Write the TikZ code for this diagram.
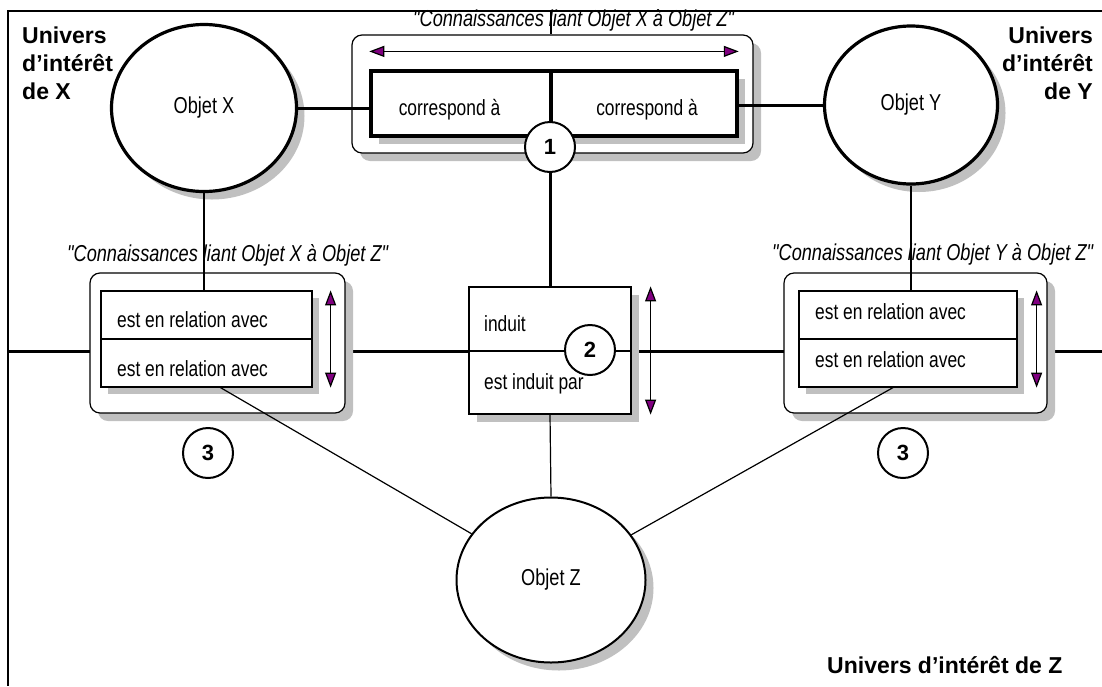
\documentclass[tikz,border=0pt]{standalone}
\usepackage{fontspec}
\setmainfont{Liberation Sans}
\newfontfamily\narrowfont[FakeStretch=0.79]{Liberation Sans}
\usetikzlibrary{arrows.meta, shapes.geometric, backgrounds}
\definecolor{tippurple}{RGB}{128,0,128}
\definecolor{shadowgray}{RGB}{192,192,192}

\begin{document}
\begin{tikzpicture}[x=1pt, y=-1pt,
  ombre/.style={fill=shadowgray},
  objet/.style={ellipse, draw, fill=white, inner sep=0pt, font=\narrowfont\fontsize{23}{27}\selectfont},
  cadre/.style={draw, fill=white, rounded corners=10pt, line width=1.2pt},
  tableau/.style={draw, fill=white, line width=1.2pt, inner sep=0pt},
  cellule/.style={draw, fill=white, line width=3.5pt, inner sep=0pt},
  rond/.style={circle, draw, fill=white, line width=2pt, minimum size=50pt, inner sep=0pt, font=\fontsize{22}{26}\selectfont\bfseries},
  texte/.style={inner sep=0pt, font=\narrowfont\fontsize{22}{26}\selectfont},
  titre/.style={inner sep=0pt, font=\narrowfont\itshape\fontsize{23}{27}\selectfont},
  univers/.style={inner sep=0pt, font=\fontsize{23}{28}\selectfont\bfseries},
  epais/.style={line width=3pt},
  fin/.style={line width=1.2pt},
  fleche/.style={fin, {Triangle[width=11pt,length=15pt,fill=tippurple]}-{Triangle[width=11pt,length=15pt,fill=tippurple]}}
]
  \useasboundingbox (0,0) rectangle (1102,686);

  % Frame corners and universe borders
  \coordinate (coin) at (8,11);
  \coordinate (hautdroit) at (1102,11);
  \coordinate (basgauche) at (8,686);
  \coordinate (gauche) at (8,351);
  \coordinate (droite) at (1102,351);
  \coordinate (haut) at (551,11);

  % Objects (with shadows)
  \fill[ombre] (212,116) ellipse [x radius=92.5, y radius=83.5];
  \node[objet, line width=3.2pt, minimum width=185pt, minimum height=167pt] (objx) at (204,108) {Objet X};
  \fill[ombre] (919,113) ellipse [x radius=86.5, y radius=79];
  \node[objet, line width=3.2pt, minimum width=173pt, minimum height=158pt] (objy) at (911,105) {Objet Y};
  \fill[ombre] (559,588) ellipse [x radius=94.5, y radius=82.5];
  \node[objet, line width=2pt, minimum width=189pt, minimum height=165pt] (objz) at (551,580) {Objet Z};

  % Knowledge X-Y (top)
  \fill[ombre, rounded corners=10pt] (360,43) rectangle (761,161);
  \node[cadre, minimum width=401pt, minimum height=118pt] (cadrexy) at (552.5,94) {};
  \fill[ombre] (379,79) rectangle (745,144);
  \node[cellule, minimum width=180pt, minimum height=65pt] (corr1) at (461,103.5) {};
  \node[cellule, minimum width=186pt, minimum height=65pt] (corr2) at (644,103.5) {};
  \node[texte, anchor=base] (txtcorr1) at (449.5,115) {correspond à};
  \node[texte, anchor=base] (txtcorr2) at (647,115) {correspond à};
  \draw[fleche] ([yshift=-17pt]cadrexy.north -| corr1.west) -- ([yshift=-17pt]cadrexy.north -| corr2.east);

  % Knowledge X-Z (left)
  \fill[ombre, rounded corners=10pt] (98,281) rectangle (353,421);
  \node[cadre, minimum width=255pt, minimum height=140pt] (cadrexz) at (217.5,343) {};
  \fill[ombre] (108,298) rectangle (319,394);
  \node[tableau, minimum width=211pt, minimum height=96pt] (tabx) at (206.5,339) {};
  \draw[fin] (tabx.west) -- (tabx.east);
  \node[texte, anchor=base west] (txtx1) at (117,327) {est en relation avec};
  \node[texte, anchor=base west] (txtx2) at (117,376) {est en relation avec};
  \draw[fleche] ([xshift=18pt]tabx.north east) -- ([xshift=18pt]tabx.south east);

  % Knowledge Y-Z (right)
  \fill[ombre, rounded corners=10pt] (792,281) rectangle (1055,421);
  \node[cadre, minimum width=263pt, minimum height=140pt] (cadreyz) at (915.5,343) {};
  \fill[ombre] (806,298) rectangle (1024,394);
  \node[tableau, minimum width=218pt, minimum height=96pt] (taby) at (908,339) {};
  \draw[fin] (taby.west) -- (taby.east);
  \node[texte, anchor=base west] (txty1) at (815,319) {est en relation avec};
  \node[texte, anchor=base west] (txty2) at (815,367) {est en relation avec};
  \draw[fleche] ([xshift=19pt]taby.north east) -- ([xshift=19pt]taby.south east);

  % Induction box (centre)
  \fill[ombre] (477,295) rectangle (639,422);
  \node[tableau, minimum width=162pt, minimum height=127pt] (induit) at (550,350.5) {};
  \draw[fin] (induit.west |- gauche) -- (induit.east |- gauche);
  \node[texte, anchor=base west] (txtinduit) at (484,331) {induit};
  \node[texte, anchor=base west] (txtinduitpar) at (484,389) {est induit par};
  \draw[fleche] ([xshift=19pt]induit.north east) -- ([xshift=19pt]induit.south east);

  % Numbered circles
  \node[rond] (un) at (550,147) {1};
  \node[rond] (deux) at (590,350) {2};
  \node[rond] (troisx) at (208,453) {3};
  \node[rond] (troisy) at (903,453) {3};

  % Frame and border lines
  \begin{scope}[on background layer]
    \draw[line width=2pt] (hautdroit) -- (coin) -- (basgauche);
    \draw[epais] (gauche) -- (droite);
  \end{scope}

  % Connectors
  \draw[line width=2pt] (haut) -- (haut |- cadrexy.north);
  \draw[epais] (un.south) -- (un.south |- induit.north);
  \draw[epais] (objx.east) -- (objx.east -| corr1.west);
  \draw[epais] (objy.west -| corr2.east) -- (objy.west);
  \draw[fin] (objx.south) -- (objx.south |- tabx.north);
  \draw[fin] (objy.south) -- (objy.south |- taby.north);
  \draw[fin] (induit.south) -- (objz.north);
  \draw[fin] ([xshift=14pt]tabx.south) -- (objz);
  \draw[fin] ([xshift=-15pt]taby.south) -- (objz);

  % Titles
  \node[titre, anchor=base west] (titrexy) at (413,26) {"Connaissances liant Objet X à Objet Z"};
  \node[titre, anchor=base west] (titrexz) at (67,261) {"Connaissances liant Objet X à Objet Z"};
  \node[titre, anchor=base west] (titreyz) at (772,260) {"Connaissances liant Objet Y à Objet Z"};

  % Universes
  \node[univers, align=left, anchor=north west] (univx) at (22,27) {Univers\\d’intérêt\\de X};
  \node[univers, align=right, anchor=north east] (univy) at (1093,27) {Univers\\d’intérêt\\de Y};
  \node[univers, anchor=base west] (univz) at (827,673) {Univers d’intérêt de Z};

\end{tikzpicture}
\end{document}
